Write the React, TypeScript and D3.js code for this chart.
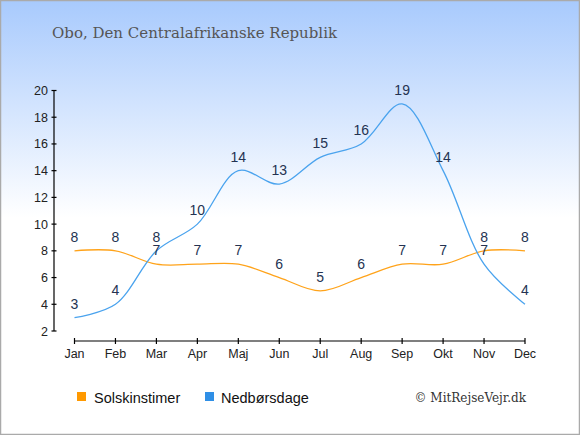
import * as d3 from 'd3';

const months = ['Jan', 'Feb', 'Mar', 'Apr', 'Maj', 'Jun', 'Jul', 'Aug', 'Sep', 'Okt', 'Nov', 'Dec'];
const sunHours = [8, 8, 7, 7, 7, 6, 5, 6, 7, 7, 8, 8];
const rainDays = [3, 4, 8, 10, 14, 13, 15, 16, 19, 14, 7, 4];
const yTicks = [2, 4, 6, 8, 10, 12, 14, 16, 18, 20];

const W = 580;
const H = 435;
const sunColor = '#ffa31a';
const rainColor = '#4aa3ee';
const labelColor = '#243352';

export default function App() {
  const x = d3.scalePoint<string>().domain(months).range([74.5, 525]);
  const y = d3.scaleLinear().domain([2, 20]).range([331, 90.5]);

  const line = d3
    .line<number>()
    .x((_, i) => x(months[i]) as number)
    .y((d) => y(d))
    .curve(d3.curveCatmullRom.alpha(0.5));

  return (
    <svg width={W} height={H} style={{ display: 'block', position: 'absolute', left: 0, top: 0 }}>
      <defs>
        <linearGradient id="bg" x1="0" y1="0" x2="0" y2="1">
          <stop offset="0" stopColor="#a8cafd" />
          <stop offset="0.5" stopColor="#ffffff" />
          <stop offset="1" stopColor="#ffffff" />
        </linearGradient>
      </defs>
      <rect x={0.5} y={0.5} width={W - 1} height={H - 1} fill="url(#bg)" stroke="#aaaaaa" strokeWidth={1.5} />

      <text x={52} y={38} fontFamily="DejaVu Serif" fontSize={15} fill="#555555">
        Obo, Den Centralafrikanske Republik
      </text>

      {/* y axis */}
      <line x1={54} x2={54} y1={y(20)} y2={y(2)} stroke="#000" strokeWidth={1.2} />
      {yTicks.map((t) => (
        <g key={t}>
          <line x1={51.5} x2={56.5} y1={y(t)} y2={y(t)} stroke="#000" strokeWidth={1.2} />
          <text x={48} y={y(t) + 4.5} textAnchor="end" fontFamily="Liberation Sans, Arial" fontSize={12.5} fill="#222">
            {t}
          </text>
        </g>
      ))}

      {/* x axis */}
      <line x1={x('Jan')} x2={x('Dec')} y1={341} y2={341} stroke="#000" strokeWidth={1.2} />
      {months.map((m) => (
        <g key={m}>
          <line x1={x(m)} x2={x(m)} y1={338} y2={344} stroke="#000" strokeWidth={1.2} />
          <text x={x(m)} y={358} textAnchor="middle" fontFamily="Liberation Sans, Arial" fontSize={12.5} fill="#222">
            {m}
          </text>
        </g>
      ))}

      <path d={line(sunHours) || ''} fill="none" stroke={sunColor} strokeWidth={1.3} />
      <path d={line(rainDays) || ''} fill="none" stroke={rainColor} strokeWidth={1.3} />

      {sunHours.map((v, i) => (
        <text key={'s' + i} x={x(months[i])} y={y(v) - 9} textAnchor="middle" fontFamily="Liberation Sans, Arial" fontSize={14} fill={labelColor}>
          {v}
        </text>
      ))}
      {rainDays.map((v, i) => (
        <text key={'r' + i} x={x(months[i])} y={y(v) - 9} textAnchor="middle" fontFamily="Liberation Sans, Arial" fontSize={14} fill={labelColor}>
          {v}
        </text>
      ))}

      {/* legend */}
      <rect x={77} y={392} width={9} height={9} fill="#ff9900" />
      <text x={94} y={403} fontFamily="Liberation Sans, Arial" fontSize={14.5} fill="#111">Solskinstimer</text>
      <rect x={205} y={392} width={9} height={9} fill="#2f8fe6" />
      <text x={221} y={403} fontFamily="Liberation Sans, Arial" fontSize={14.5} fill="#111">Nedbørsdage</text>

      <text x={526} y={402} textAnchor="end" fontFamily="DejaVu Serif" fontSize={12} fill="#333">
        © MitRejseVejr.dk
      </text>
    </svg>
  );
}
